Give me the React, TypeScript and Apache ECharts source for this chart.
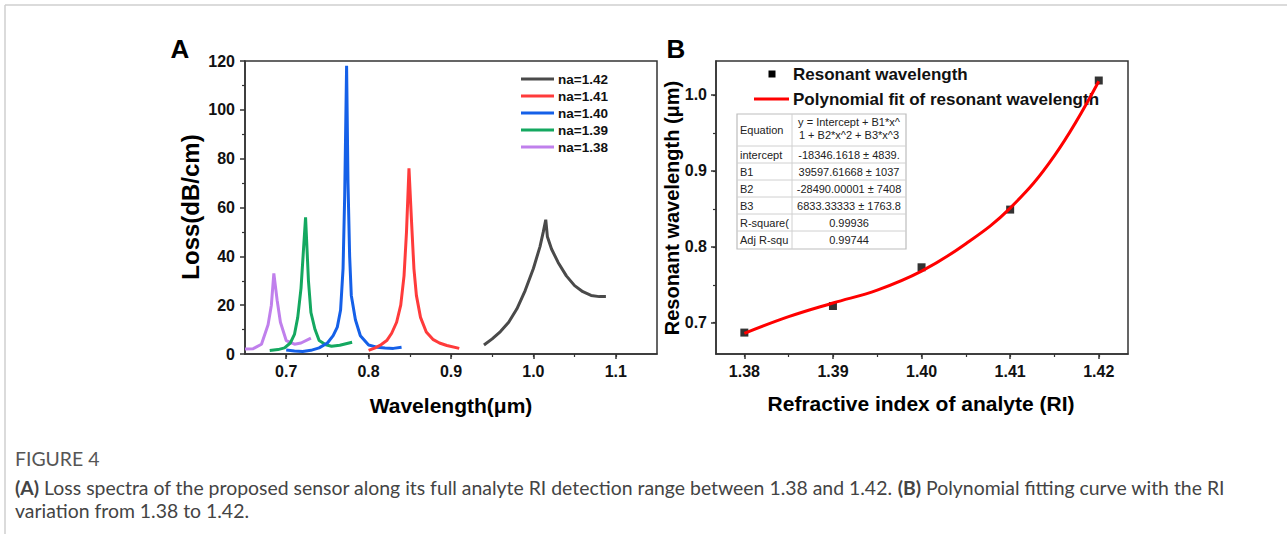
import React, { useEffect, useRef } from "react";
import * as echarts from "echarts";

// ---------- Panel A: loss spectra ----------
const seriesNamesA = ["na=1.42", "na=1.41", "na=1.40", "na=1.39", "na=1.38"];
const lossNa142: [number, number][] = [
  [0.940, 3.7], [0.950, 6.2], [0.960, 9.2], [0.970, 13], [0.980, 18.5], [0.990, 26],
  [1.000, 35], [1.008, 44], [1.012, 50], [1.015, 55], [1.017, 48], [1.022, 43],
  [1.030, 37.5], [1.040, 32], [1.050, 28], [1.060, 25.5], [1.070, 24], [1.080, 23.5], [1.088, 23.5],
];
const lossNa141: [number, number][] = [
  [0.800, 1.5], [0.808, 2.5], [0.815, 3.8], [0.822, 5.5], [0.828, 8.5], [0.834, 13],
  [0.839, 20], [0.843, 32], [0.846, 50], [0.849, 76], [0.852, 55], [0.855, 35],
  [0.858, 24], [0.863, 15], [0.870, 9], [0.878, 6], [0.886, 4.5], [0.895, 3.5], [0.910, 2.3],
];
const lossNa140: [number, number][] = [
  [0.700, 1.6], [0.710, 1.2], [0.720, 1.0], [0.730, 1.5], [0.740, 2.5], [0.750, 4.5],
  [0.757, 7.5], [0.762, 11], [0.766, 18], [0.769, 35], [0.771, 65], [0.7733, 118],
  [0.775, 70], [0.777, 40], [0.779, 24], [0.784, 14], [0.790, 7.5], [0.800, 3.7],
  [0.810, 2.8], [0.820, 2.5], [0.830, 2.3], [0.840, 2.8],
];
const lossNa139: [number, number][] = [
  [0.680, 1.4], [0.690, 1.8], [0.698, 2.5], [0.705, 4.5], [0.710, 8], [0.714, 15],
  [0.718, 27], [0.7235, 56], [0.727, 30], [0.730, 17], [0.735, 10], [0.740, 5.5],
  [0.748, 3.8], [0.755, 3.2], [0.765, 3.6], [0.780, 4.8],
];
const lossNa138: [number, number][] = [
  [0.650, 2], [0.660, 2.2], [0.670, 4], [0.678, 12], [0.682, 20], [0.685, 33],
  [0.689, 22], [0.693, 13], [0.700, 5.5], [0.710, 4], [0.718, 4.5], [0.730, 6.5],
];
const colorsA = ["#4a4a4a", "#ff3b3b", "#1560e8", "#14a860", "#c080ec"];
const xTicksA = [0.7, 0.8, 0.9, 1.0, 1.1];
const xMinorA = [0.7, 0.75, 0.8, 0.85, 0.9, 0.95, 1.0, 1.05, 1.1];

// ---------- Panel B: resonant wavelength vs RI ----------
const riValues = [1.38, 1.39, 1.40, 1.41, 1.42];
const resonantWavelength = [0.687, 0.722, 0.773, 0.849, 1.019];
const fitRI = [1.38, 1.385, 1.39, 1.395, 1.40, 1.405, 1.41, 1.415, 1.42];
const fitWavelength = [0.686, 0.708, 0.726, 0.743, 0.768, 0.804, 0.851, 0.920, 1.018];
const xTicksB = [1.38, 1.39, 1.40, 1.41, 1.42];
const xMinorB = [1.38, 1.385, 1.39, 1.395, 1.40, 1.405, 1.41, 1.415, 1.42];
const yTicksB = [0.7, 0.8, 0.9, 1.0];
const yMinorB = [0.7, 0.75, 0.8, 0.85, 0.9, 0.95, 1.0];

const tableRows: [string, string][] = [
  ["intercept", "-18346.1618 ± 4839."],
  ["B1", "39597.61668 ± 1037"],
  ["B2", "-28490.00001 ± 7408"],
  ["B3", "6833.33333 ± 1763.8"],
  ["R-square(", "0.99936"],
  ["Adj R-squ", "0.99744"],
];

const captionTitle = "FIGURE 4";
const captionA = "(A)";
const captionAText = " Loss spectra of the proposed sensor along its full analyte RI detection range between 1.38 and 1.42. ";
const captionB = "(B)";
const captionBText = " Polynomial fitting curve with the RI";
const captionLine2 = "variation from 1.38 to 1.42.";

const FONT = "'Liberation Sans', Arial, sans-serif";
const AX = "#333";

function majorAxis(gridIndex: number, min: number, max: number, ticks: number[], fmt: (v: number) => string) {
  return {
    type: "value",
    gridIndex,
    min,
    max,
    axisLine: { show: true, lineStyle: { color: AX, width: 1.5 } },
    axisTick: { show: true, length: 5, inside: false, customValues: ticks, lineStyle: { color: AX, width: 1.5 } },
    axisLabel: {
      show: true,
      customValues: ticks,
      formatter: (v: number) => fmt(v),
      fontFamily: FONT,
      fontWeight: "bold",
      fontSize: 16,
      color: "#111",
      margin: 9,
    },
    splitLine: { show: false },
  };
}

function minorAxis(gridIndex: number, min: number, max: number, ticks: number[], position: string) {
  return {
    type: "value",
    gridIndex,
    min,
    max,
    position,
    axisLine: { show: false },
    axisTick: { show: true, length: 3, customValues: ticks, lineStyle: { color: AX, width: 1.2 } },
    axisLabel: { show: false },
    splitLine: { show: false },
  };
}

export default function App() {
  const ref = useRef<HTMLDivElement>(null);

  useEffect(() => {
    if (!ref.current) return;
    const chart = echarts.init(ref.current, undefined, { renderer: "svg" });

    const dataA = [lossNa142, lossNa141, lossNa140, lossNa139, lossNa138];

    const graphics: any[] = [];
    // page frame
    graphics.push({ type: "line", shape: { x1: 5, y1: 5, x2: 1287, y2: 5 }, style: { stroke: "#cfcfcf", lineWidth: 1.5 } });
    graphics.push({ type: "line", shape: { x1: 5, y1: 5, x2: 5, y2: 534 }, style: { stroke: "#cfcfcf", lineWidth: 1.5 } });
    // panel letters
    graphics.push({ type: "text", x: 180, y: 49, style: { text: "A", font: `bold 26px ${FONT}`, fill: "#000", align: "center", verticalAlign: "middle" } });
    graphics.push({ type: "text", x: 676, y: 49, style: { text: "B", font: `bold 26px ${FONT}`, fill: "#000", align: "center", verticalAlign: "middle" } });
    // axis titles
    graphics.push({ type: "text", x: 190, y: 207, rotation: Math.PI / 2, style: { text: "Loss(dB/cm)", font: `bold 24px ${FONT}`, fill: "#000", align: "center", verticalAlign: "middle" } });
    graphics.push({ type: "text", x: 451, y: 405, style: { text: "Wavelength(μm)", font: `bold 21px ${FONT}`, fill: "#000", align: "center", verticalAlign: "middle" } });
    graphics.push({ type: "text", x: 672, y: 208, rotation: Math.PI / 2, style: { text: "Resonant wavelength (μm)", font: `bold 20px ${FONT}`, fill: "#000", align: "center", verticalAlign: "middle" } });
    graphics.push({ type: "text", x: 921, y: 403, style: { text: "Refractive index of analyte (RI)", font: `bold 21px ${FONT}`, fill: "#000", align: "center", verticalAlign: "middle" } });

    // legend A
    seriesNamesA.forEach((name, i) => {
      const y = 79 + i * 17;
      graphics.push({ type: "line", shape: { x1: 521, y1: y, x2: 554, y2: y }, style: { stroke: colorsA[i], lineWidth: 3 } });
      graphics.push({ type: "text", x: 558, y, style: { text: name, font: `bold 13.5px ${FONT}`, fill: "#111", align: "left", verticalAlign: "middle" } });
    });

    // legend B
    graphics.push({ type: "rect", shape: { x: 768.5, y: 70.5, width: 7, height: 7 }, style: { fill: "#000" } });
    graphics.push({ type: "text", x: 793, y: 74, style: { text: "Resonant wavelength", font: `bold 17px ${FONT}`, fill: "#111", align: "left", verticalAlign: "middle" } });
    graphics.push({ type: "line", shape: { x1: 754, y1: 99, x2: 789, y2: 99 }, style: { stroke: "#ff0000", lineWidth: 3 } });
    graphics.push({ type: "text", x: 793, y: 99, style: { text: "Polynomial fit of resonant wavelength", font: `bold 17px ${FONT}`, fill: "#111", align: "left", verticalAlign: "middle" } });

    // fit table
    const tx = 737, ty = 114, tw = 169, th = 135, cx = 792;
    graphics.push({ type: "rect", shape: { x: tx, y: ty, width: tw, height: th }, style: { fill: "#fff", stroke: "#bdbdbd", lineWidth: 1.2 }, z: 10 });
    graphics.push({ type: "line", shape: { x1: cx, y1: ty, x2: cx, y2: ty + th }, style: { stroke: "#d0d0d0", lineWidth: 1 }, z: 11 });
    const rowLines = [146, 163, 180, 197, 214, 231];
    rowLines.forEach((y) => {
      graphics.push({ type: "line", shape: { x1: tx, y1: y, x2: tx + tw, y2: y }, style: { stroke: "#d0d0d0", lineWidth: 1 }, z: 11 });
    });
    const tfont = `11px ${FONT}`;
    graphics.push({ type: "text", x: 740, y: 130, z: 12, style: { text: "Equation", font: tfont, fill: "#222", align: "left", verticalAlign: "middle" } });
    graphics.push({ type: "text", x: 849, y: 122, z: 12, style: { text: "y = Intercept + B1*x^", font: tfont, fill: "#222", align: "center", verticalAlign: "middle" } });
    graphics.push({ type: "text", x: 849, y: 135, z: 12, style: { text: "1 + B2*x^2 + B3*x^3", font: tfont, fill: "#222", align: "center", verticalAlign: "middle" } });
    tableRows.forEach(([k, v], i) => {
      const y = 155 + i * 17;
      graphics.push({ type: "text", x: 740, y, z: 12, style: { text: k, font: tfont, fill: "#222", align: "left", verticalAlign: "middle" } });
      graphics.push({ type: "text", x: 849, y, z: 12, style: { text: v, font: tfont, fill: "#222", align: "center", verticalAlign: "middle" } });
    });

    // caption: font size fitted so that the first line spans the text block
    const capFamily = "Lato, 'Open Sans', sans-serif";
    const ctx = document.createElement("canvas").getContext("2d") as CanvasRenderingContext2D;
    const measure = (size: number) => {
      ctx.font = `bold ${size}px ${capFamily}`;
      let w = ctx.measureText(captionA).width + ctx.measureText(captionB).width;
      ctx.font = `${size}px ${capFamily}`;
      w += ctx.measureText(captionAText).width + ctx.measureText(captionBText).width;
      return w;
    };
    const targetWidth = 1226 - 15;
    let capSize = 17 * targetWidth / measure(17);
    capSize = Math.max(14, Math.min(21, capSize));
    const capReg = `${capSize}px ${capFamily}`;
    graphics.push({ type: "text", x: 15, y: 458, style: { text: captionTitle, font: capReg, fill: "#555", align: "left", verticalAlign: "middle" } });
    graphics.push({
      type: "text", x: 15, y: 487,
      style: {
        text: `{b|${captionA}}${captionAText}{b|${captionB}}${captionBText}`,
        font: capReg, fill: "#444", align: "left", verticalAlign: "middle",
        rich: { b: { fontWeight: "bold", fontSize: capSize, fontFamily: capFamily, fill: "#444" } },
      },
    });
    graphics.push({ type: "text", x: 15, y: 510, style: { text: captionLine2, font: capReg, fill: "#444", align: "left", verticalAlign: "middle" } });

    const option: any = {
      animation: false,
      backgroundColor: "#fff",
      grid: [
        { left: 245, top: 61, width: 412, height: 293, show: true, borderColor: AX, borderWidth: 1.5, backgroundColor: "transparent" },
        { left: 716, top: 61, width: 412, height: 293, show: true, borderColor: AX, borderWidth: 1.5, backgroundColor: "transparent" },
      ],
      xAxis: [
        { ...majorAxis(0, 0.65, 1.15, xTicksA, (v) => v.toFixed(1)), position: "bottom" },
        minorAxis(0, 0.65, 1.15, xMinorA, "bottom"),
        { ...majorAxis(1, 1.3768, 1.4233, xTicksB, (v) => v.toFixed(2)), position: "bottom" },
        minorAxis(1, 1.3768, 1.4233, xMinorB, "bottom"),
      ],
      yAxis: [
        {
          type: "value", gridIndex: 0, min: 0, max: 120, interval: 20, position: "left",
          axisLine: { show: true, lineStyle: { color: AX, width: 1.5 } },
          axisTick: { show: true, length: 5, lineStyle: { color: AX, width: 1.5 } },
          minorTick: { show: true, splitNumber: 2, length: 3, lineStyle: { color: AX, width: 1.2 } },
          axisLabel: { fontFamily: FONT, fontWeight: "bold", fontSize: 16, color: "#111", margin: 10 },
          splitLine: { show: false },
        },
        { ...majorAxis(1, 0.6588, 1.0447, yTicksB, (v) => v.toFixed(1)), position: "left" },
        minorAxis(1, 0.6588, 1.0447, yMinorB, "left"),
      ],
      series: [
        ...dataA.map((d, i) => ({
          name: seriesNamesA[i],
          type: "line",
          xAxisIndex: 0,
          yAxisIndex: 0,
          data: d,
          showSymbol: false,
          symbol: "none",
          lineStyle: { color: colorsA[i], width: 3 },
          itemStyle: { color: colorsA[i] },
          z: 3 + (4 - i),
        })),
        {
          name: "Polynomial fit of resonant wavelength",
          type: "line",
          xAxisIndex: 2,
          yAxisIndex: 1,
          data: fitRI.map((x, i) => [x, fitWavelength[i]]),
          smooth: 0.4,
          symbol: "none",
          lineStyle: { color: "#ff0000", width: 3 },
          z: 4,
        },
        {
          name: "Resonant wavelength",
          type: "scatter",
          xAxisIndex: 2,
          yAxisIndex: 1,
          data: riValues.map((x, i) => [x, resonantWavelength[i]]),
          symbol: "rect",
          symbolSize: 8,
          itemStyle: { color: "#000" },
          z: 3,
        },
      ],
      graphic: graphics,
    };

    chart.setOption(option);
    return () => chart.dispose();
  }, []);

  return <div ref={ref} style={{ position: "absolute", left: 0, top: 0, width: 1287, height: 534 }} />;
}
